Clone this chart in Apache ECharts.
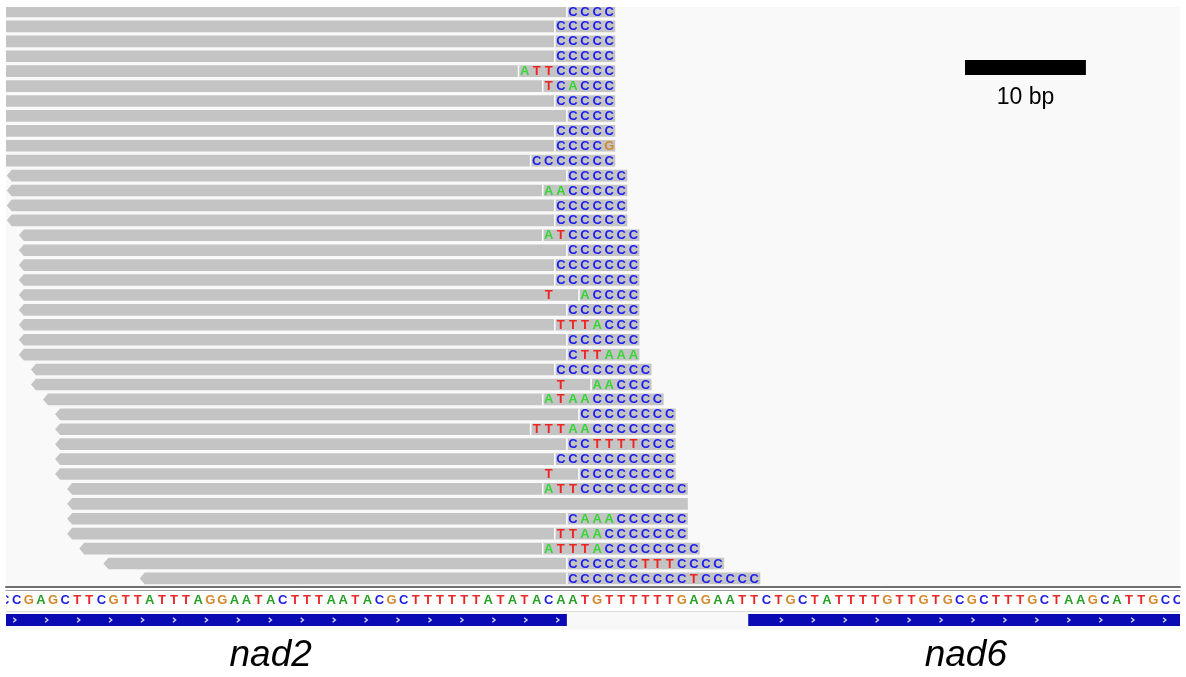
<!DOCTYPE html>
<html><head><meta charset="utf-8">
<script src="https://cdn.jsdelivr.net/npm/echarts@6/dist/echarts.min.js"></script>
<style>html,body{margin:0;padding:0;background:#fff}#c{width:1186px;height:677px}</style>
</head><body><div id="c"></div>
<script>
// reference sequence (first base partly outside the view)
const refBases = "CCGAGCTTCGTTATTTAGGAATACTTTAATACGCTTTTTTATATACAATGTTTTTTGAGAATTCTGCTATTTTGTTGTGCGCTTTGCTAAGCATTGCC".split('');

// reads (one per row, top to bottom); positions are base indices of the reference above
const readStart = [0,0,0,0,0,0,0,0,0,0,0, 1,1,1,1, 2,2,2,2,2,2,2,2,2, 3,3, 4, 5,5,5,5,5, 6,6,6,6, 7, 9, 12];
const readEnd   = [50,50,50,50,50,50,50,50,50,50,50, 51,51,51,51, 52,52,52,52,52,52,52,52,52, 53,53, 54, 55,55,55,55,55, 56,56,56,56, 57, 59, 62];
const readReverse = [0,0,0,0,0,0,0,0,0,0,0, 1,1,1,1, 1,1,1,1,1,1,1,1,1, 1,1, 1, 1,1,1,1,1, 1,1,1,1, 1, 1, 1];
const readClip  = [47,46,46,46,43,45,46,47,46,46,44, 47,45,46,46, 45,47,46,46,48,47,46,47,47, 46,49, 45, 48,44,47,46,48, 45,-1,47,46, 45, 47, 47];
const readBaseStart = [47,46,46,46,43,45,46,47,46,46,44, 47,45,46,46, 45,47,46,46,45,47,46,47,47, 46,46, 45, 48,44,47,46,45, 45,0,47,46, 45, 47, 47];
const readBases = [
  "CCCC","CCCCC","CCCCC","CCCCC","ATTCCCCC","TCACCC","CCCCC","CCCC","CCCCC","CCCCG","CCCCCCC",
  "CCCCC","AACCCCC","CCCCCC","CCCCCC",
  "ATCCCCCC","CCCCCC","CCCCCCC","CCCCCCC","T  ACCCC","CCCCCC","TTTACCC","CCCCCC","CTTAAA",
  "CCCCCCCC","T  AACCC",
  "ATAACCCCCC",
  "CCCCCCCC","TTTAACCCCCCC","CCTTTTCCC","CCCCCCCCCC","T  CCCCCCCC",
  "ATTCCCCCCCCC","","CAAACCCCCC","TTAACCCCCCC",
  "ATTTACCCCCCCC","CCCCCCTTTCCCC","CCCCCCCCCCTCCCCC"
];

// genes (base indices)
const geneNames = ['nad2', 'nad6'];
const geneStart = [-2, 62];
const geneEnd   = [46, 97];

// scale bar
const scaleBarBp = 10;
const scaleBarLabel = '10 bp';

const readColor = {A:'#33d633', C:'#1c1cf0', G:'#d4872a', T:'#ee2424'};
const refColor  = {A:'#25a025', C:'#2020e0', G:'#d4872a', T:'#e82828'};
const FONT = '"Liberation Sans", Arial, sans-serif';

const PX0 = 4.7, PXB = 12.09;
const X_MIN = (6 - PX0) / PXB, X_MAX = (1180 - PX0) / PXB;
const ROW_PX = 14.92;
const Y_MIN = -0.3, Y_MAX = -0.3 + 581 / ROW_PX;

function renderRead(params, api) {
  const i = params.dataIndex;
  const row = api.value(0), s = api.value(1), e = api.value(2);
  const c = api.coord([s - 0.5, row]);
  const xr = api.coord([e + 0.5, row])[0];
  const h = api.size([0, 0.78])[1];
  const xl = c[0], yc = c[1], yt = yc - h / 2, yb = yc + h / 2;
  const children = [];
  const pts = readReverse[i]
    ? [[xl + 1, yt], [xr, yt], [xr, yb], [xl + 1, yb], [xl - 4, yc]]
    : [[xl, yt], [xr, yt], [xr, yb], [xl, yb]];
  children.push({type: 'polygon', shape: {points: pts}, style: {fill: '#c4c4c4'}});
  if (readClip[i] >= 0) {
    const xc = api.coord([readClip[i] - 0.5, row])[0];
    children.push({type: 'rect', shape: {x: xc - 0.75, y: yt, width: 1.5, height: h}, style: {fill: '#ffffff'}});
  }
  const str = readBases[i];
  for (let k = 0; k < str.length; k++) {
    const b = str[k];
    if (b === ' ') continue;
    const p = api.coord([readBaseStart[i] + k, row]);
    children.push({type: 'text', style: {text: b, x: p[0], y: p[1] + 0.5, align: 'center', verticalAlign: 'middle',
      fill: readColor[b], font: 'bold 13px ' + FONT}});
  }
  return {type: 'group', children};
}

function renderRef(params, api) {
  const i = params.dataIndex;
  const p = api.coord([api.value(0), api.value(1)]);
  const b = refBases[i];
  return {type: 'text', style: {text: b, x: p[0], y: p[1], align: 'center', verticalAlign: 'middle',
    fill: refColor[b], font: 'bold 13px ' + FONT}};
}

function renderGene(params, api) {
  const i = params.dataIndex;
  const s = api.value(0), e = api.value(1);
  const cs = params.coordSys;
  const a = api.coord([s - 0.5, 0.16]);
  const b = api.coord([e + 0.5, 0.79]);
  const x0 = Math.max(a[0], cs.x), x1 = Math.min(b[0], cs.x + cs.width);
  const children = [{type: 'rect', shape: {x: x0, y: a[1], width: x1 - x0, height: b[1] - a[1]}, style: {fill: '#0a0ab4'}}];
  const yc = (a[1] + b[1]) / 2;
  for (let k = 0; k < 60; k++) {
    const u = 0.85 + 2.642 * k;
    if (u < s - 0.2 || u > e + 0.2) continue;
    const px = api.coord([u, 0.5])[0];
    if (px < x0 + 3 || px > x1 - 3) continue;
    children.push({type: 'polyline', shape: {points: [[px - 1.8, yc - 2.3], [px + 1, yc], [px - 1.8, yc + 2.3]]},
      style: {stroke: '#d8dcf5', lineWidth: 1.3, fill: null}});
  }
  const lp = api.coord([(s + e) / 2, 2.35]);
  children.push({type: 'text', style: {text: geneNames[i], x: lp[0], y: lp[1], align: 'center', verticalAlign: 'middle',
    fill: '#000', font: 'italic 37px ' + FONT}});
  return {type: 'group', children};
}

function renderScale(params, api) {
  const p = api.coord([api.value(0), api.value(1)]);
  const w = api.size([scaleBarBp, 0])[0];
  return {type: 'group', children: [
    {type: 'rect', shape: {x: p[0], y: p[1], width: w, height: 15}, style: {fill: '#000'}},
    {type: 'text', style: {text: scaleBarLabel, x: p[0] + w / 2, y: p[1] + 38, align: 'center', verticalAlign: 'middle',
      fill: '#000', font: '23px ' + FONT}}
  ]};
}

const chart = echarts.init(document.getElementById('c'), null, {renderer: 'canvas'});
const hiddenAxis = {type: 'value', min: X_MIN, max: X_MAX, axisLabel: {show: false}, axisTick: {show: false}, splitLine: {show: false}};
chart.setOption({
  animation: false,
  backgroundColor: '#ffffff',
  grid: [
    {left: 6, width: 1174, top: 7, height: 580, show: true, backgroundColor: '#f9f9f9', borderWidth: 0},
    {left: 6, width: 1174, top: 590, height: 21, show: true, backgroundColor: '#ffffff', borderWidth: 0},
    {left: 6, width: 1174, top: 611, height: 19, show: true, backgroundColor: '#f8f8f8', borderWidth: 0}
  ],
  xAxis: [
    Object.assign({}, hiddenAxis, {gridIndex: 0, position: 'bottom', axisLine: {show: true, onZero: false, lineStyle: {color: '#707070', width: 2}}}),
    Object.assign({}, hiddenAxis, {gridIndex: 1, position: 'top', axisLine: {show: true, onZero: false, lineStyle: {color: '#a0a0a0', width: 1}}}),
    Object.assign({}, hiddenAxis, {gridIndex: 2, position: 'top', axisLine: {show: true, onZero: false, lineStyle: {color: '#dddddd', width: 1}}})
  ],
  yAxis: [
    {type: 'value', gridIndex: 0, min: Y_MIN, max: Y_MIN + 580 / ROW_PX, inverse: true, show: false},
    {type: 'value', gridIndex: 1, min: 0, max: 1, inverse: true, show: false},
    {type: 'value', gridIndex: 2, min: 0, max: 1, inverse: true, show: false}
  ],
  series: [
    {type: 'custom', xAxisIndex: 0, yAxisIndex: 0, clip: true, renderItem: renderRead,
      encode: {x: [1, 2], y: 0},
      data: readStart.map((s, i) => [i, s, readEnd[i]])},
    {type: 'custom', xAxisIndex: 0, yAxisIndex: 0, clip: false, renderItem: renderScale,
      encode: {x: 0, y: 1}, data: [[79.43, 3.25]]},
    {type: 'custom', xAxisIndex: 1, yAxisIndex: 1, clip: true, renderItem: renderRef,
      encode: {x: 0, y: 1}, data: refBases.map((b, i) => [i, 0.5])},
    {type: 'custom', xAxisIndex: 2, yAxisIndex: 2, clip: false, renderItem: renderGene,
      encode: {x: [0, 1]}, data: geneStart.map((s, i) => [s, geneEnd[i]])}
  ]
});
</script></body></html>
